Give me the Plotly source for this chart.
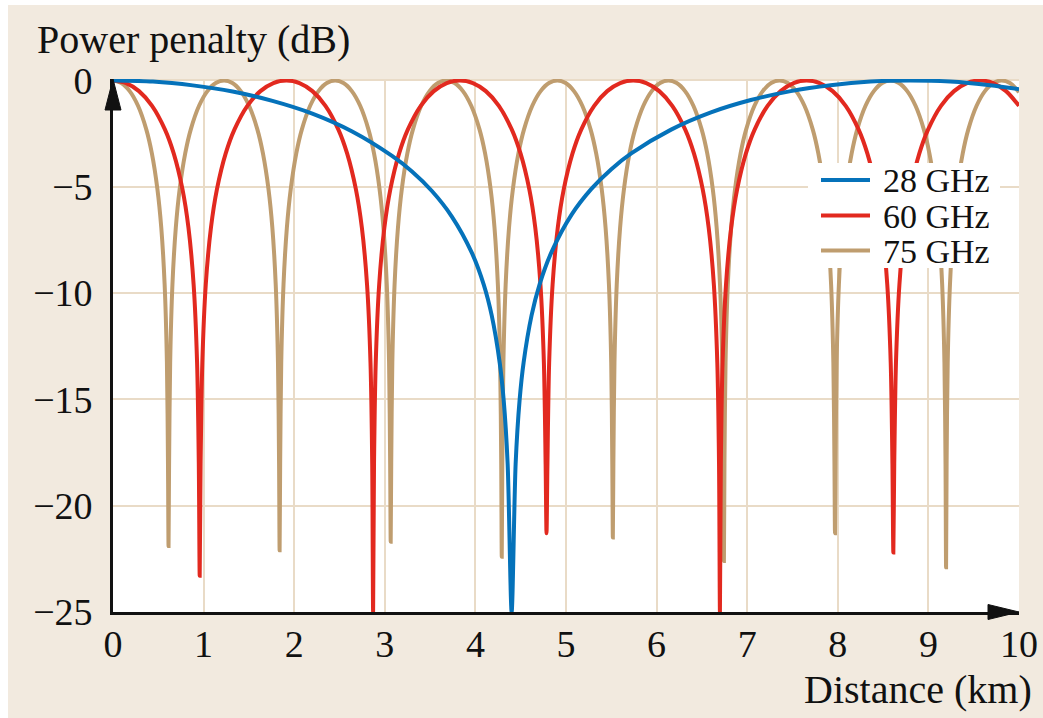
import plotly.graph_objects as go

# ---------------- data ----------------
dist_28 = [0, 0.44, 0.88, 1.32, 1.76, 2.20, 2.64, 3.08, 3.30, 3.52,
           3.74, 3.96, 4.092, 4.18, 4.268, 4.312, 4.356, 4.40,
           4.444, 4.488, 4.532, 4.62, 4.708, 4.84, 5.06, 5.28, 5.50, 5.72,
           6.16, 6.60, 7.04, 7.48, 7.92, 8.36, 8.80, 9.24, 9.68, 10.0]
pen_28 = [0, -0.05, -0.23, -0.52, -0.96, -1.56, -2.40, -3.55, -4.28, -5.20,
          -6.40, -8.10, -9.60, -11.05, -13.27, -15.03, -18.04, -25.0,
          -18.04, -15.03, -13.27, -11.05, -9.60, -8.07, -6.32, -5.10, -4.17, -3.43,
          -2.31, -1.50, -0.92, -0.50, -0.22, -0.05, 0, -0.05, -0.22, -0.41]

dist_60 = [
    0, 0.144, 0.287, 0.431, 0.574, 0.670, 0.766, 0.833, 0.890, 0.928, 0.947,
    0.957, 0.967, 0.986, 1.024, 1.081, 1.148, 1.244, 1.340, 1.483, 1.627, 1.770,
    1.914, 2.058, 2.201, 2.345, 2.488, 2.584, 2.680, 2.747, 2.804, 2.842, 2.861,
    2.871, 2.881, 2.900, 2.938, 2.995, 3.062, 3.158, 3.254, 3.397, 3.541, 3.684,
    3.828, 3.972, 4.115, 4.259, 4.402, 4.498, 4.594, 4.661, 4.718, 4.756, 4.775,
    4.785, 4.795, 4.814, 4.852, 4.909, 4.976, 5.072, 5.168, 5.311, 5.455, 5.598,
    5.742, 5.886, 6.029, 6.173, 6.316, 6.412, 6.508, 6.575, 6.632, 6.670, 6.689,
    6.699, 6.709, 6.728, 6.766, 6.823, 6.890, 6.986, 7.082, 7.225, 7.369, 7.512,
    7.656, 7.800, 7.943, 8.087, 8.230, 8.326, 8.422, 8.489, 8.546, 8.584, 8.603,
    8.613, 8.623, 8.642, 8.680, 8.737, 8.804, 8.900, 8.996, 9.139, 9.283, 9.426,
    9.570, 9.714, 9.857, 10.0]
pen_60 = [
    0, -0.12, -0.50, -1.19, -2.31, -3.43, -5.10, -6.93, -9.60, -13.27, -18.04,
    -23.3, -18.04, -13.27, -9.60, -6.93, -5.10, -3.43, -2.31, -1.19, -0.50, -0.12,
    0, -0.12, -0.50, -1.19, -2.31, -3.43, -5.10, -6.93, -9.60, -13.27, -18.04,
    -25.0, -18.04, -13.27, -9.60, -6.93, -5.10, -3.43, -2.31, -1.19, -0.50, -0.12,
    0, -0.12, -0.50, -1.19, -2.31, -3.43, -5.10, -6.93, -9.60, -13.27, -18.04,
    -21.3, -18.04, -13.27, -9.60, -6.93, -5.10, -3.43, -2.31, -1.19, -0.50, -0.12,
    0, -0.12, -0.50, -1.19, -2.31, -3.43, -5.10, -6.93, -9.60, -13.27, -18.04,
    -25.0, -18.04, -13.27, -9.60, -6.93, -5.10, -3.43, -2.31, -1.19, -0.50, -0.12,
    0, -0.12, -0.50, -1.19, -2.31, -3.43, -5.10, -6.93, -9.60, -13.27, -18.04,
    -22.2, -18.04, -13.27, -9.60, -6.93, -5.10, -3.43, -2.31, -1.19, -0.50, -0.12,
    0, -0.12, -0.50, -1.19]

dist_75 = [
    0.000, 0.092, 0.184, 0.276, 0.368, 0.429, 0.490, 0.533, 0.570, 0.595, 0.607,
    0.613, 0.619, 0.631, 0.656, 0.693, 0.736, 0.797, 0.858, 0.950, 1.042, 1.134,
    1.226, 1.318, 1.410, 1.502, 1.594, 1.655, 1.716, 1.759, 1.796, 1.821, 1.833,
    1.839, 1.845, 1.857, 1.882, 1.919, 1.962, 2.023, 2.084, 2.176, 2.268, 2.360,
    2.452, 2.544, 2.636, 2.728, 2.820, 2.881, 2.942, 2.985, 3.022, 3.047, 3.059,
    3.065, 3.071, 3.083, 3.108, 3.145, 3.188, 3.249, 3.310, 3.402, 3.494, 3.586,
    3.678, 3.770, 3.862, 3.954, 4.046, 4.107, 4.168, 4.211, 4.248, 4.273, 4.285,
    4.291, 4.297, 4.309, 4.334, 4.371, 4.414, 4.475, 4.536, 4.628, 4.720, 4.812,
    4.904, 4.996, 5.088, 5.180, 5.272, 5.333, 5.394, 5.437, 5.474, 5.499, 5.511,
    5.517, 5.523, 5.535, 5.560, 5.597, 5.640, 5.701, 5.762, 5.854, 5.946, 6.038,
    6.130, 6.222, 6.314, 6.406, 6.498, 6.559, 6.620, 6.663, 6.700, 6.725, 6.737,
    6.743, 6.749, 6.761, 6.786, 6.823, 6.866, 6.927, 6.988, 7.080, 7.172, 7.264,
    7.356, 7.448, 7.540, 7.632, 7.724, 7.785, 7.846, 7.889, 7.926, 7.951, 7.963,
    7.969, 7.975, 7.987, 8.012, 8.049, 8.092, 8.153, 8.214, 8.306, 8.398, 8.490,
    8.582, 8.674, 8.766, 8.858, 8.950, 9.011, 9.072, 9.115, 9.152, 9.177, 9.189,
    9.195, 9.201, 9.213, 9.238, 9.275, 9.318, 9.379, 9.440, 9.532, 9.624, 9.716,
    9.808, 9.900, 10.0]
pen_75 = [
    0, -0.12, -0.50, -1.19, -2.31, -3.43, -5.10, -6.93, -9.60, -13.27, -18.04,
    -21.9, -18.04, -13.27, -9.60, -6.93, -5.10, -3.43, -2.31, -1.19, -0.50, -0.12,
    0, -0.12, -0.50, -1.19, -2.31, -3.43, -5.10, -6.93, -9.60, -13.27, -18.04,
    -22.1, -18.04, -13.27, -9.60, -6.93, -5.10, -3.43, -2.31, -1.19, -0.50, -0.12,
    0, -0.12, -0.50, -1.19, -2.31, -3.43, -5.10, -6.93, -9.60, -13.27, -18.04,
    -21.7, -18.04, -13.27, -9.60, -6.93, -5.10, -3.43, -2.31, -1.19, -0.50, -0.12,
    0, -0.12, -0.50, -1.19, -2.31, -3.43, -5.10, -6.93, -9.60, -13.27, -18.04,
    -22.4, -18.04, -13.27, -9.60, -6.93, -5.10, -3.43, -2.31, -1.19, -0.50, -0.12,
    0, -0.12, -0.50, -1.19, -2.31, -3.43, -5.10, -6.93, -9.60, -13.27, -18.04,
    -21.5, -18.04, -13.27, -9.60, -6.93, -5.10, -3.43, -2.31, -1.19, -0.50, -0.12,
    0, -0.12, -0.50, -1.19, -2.31, -3.43, -5.10, -6.93, -9.60, -13.27, -18.04,
    -22.6, -18.04, -13.27, -9.60, -6.93, -5.10, -3.43, -2.31, -1.19, -0.50, -0.12,
    0, -0.12, -0.50, -1.19, -2.31, -3.43, -5.10, -6.93, -9.60, -13.27, -18.04,
    -21.3, -18.04, -13.27, -9.60, -6.93, -5.10, -3.43, -2.31, -1.19, -0.50, -0.12,
    0, -0.12, -0.50, -1.19, -2.31, -3.43, -5.10, -6.93, -9.60, -13.27, -18.04,
    -22.9, -18.04, -13.27, -9.60, -6.93, -5.10, -3.43, -2.31, -1.19, -0.50, -0.12,
    0, -0.12, -0.55]

series_names = ["28 GHz", "60 GHz", "75 GHz"]
x_ticks = [0, 1, 2, 3, 4, 5, 6, 7, 8, 9, 10]
x_tick_text = ["0", "1", "2", "3", "4", "5", "6", "7", "8", "9", "10"]
y_ticks = [0, -5, -10, -15, -20, -25]
y_tick_text = ["0", "\u22125", "\u221210", "\u221215", "\u221220", "\u221225"]

# ---------------- styling ----------------
C28, C60, C75 = "#0572ba", "#e2291f", "#bf9d6f"
BG = "#f2eadf"
GRID = "#e9dbc7"
FONT = "Liberation Serif"
LW = 4.0

W, H = 1043, 718
ML, MR, MT, MB = 113, 24, 79, 106
PW, PH = W - ML - MR, H - MT - MB


def px(p):  # pixel x -> paper x
    return (p - ML) / PW


def py(p):  # pixel y -> paper y
    return (H - MB - p) / PH


fig = go.Figure()
for xs, ys, name, col in [(dist_75, pen_75, series_names[2], C75),
                          (dist_60, pen_60, series_names[1], C60),
                          (dist_28, pen_28, series_names[0], C28)]:
    fig.add_trace(go.Scatter(x=xs, y=ys, mode="lines", name=name,
                             line=dict(color=col, width=LW, shape="spline", smoothing=0.8),
                             showlegend=False, hoverinfo="skip"))

shapes = []
annotations = []
# thin white strips at the top / left edge of the picture
shapes.append(dict(type="rect", xref="paper", yref="paper", layer="below",
                   x0=px(0), x1=px(8), y0=py(H), y1=py(0),
                   fillcolor="white", line=dict(width=0)))
shapes.append(dict(type="rect", xref="paper", yref="paper", layer="below",
                   x0=px(0), x1=px(W), y0=py(5), y1=py(0),
                   fillcolor="white", line=dict(width=0)))
# legend box
shapes.append(dict(type="rect", xref="paper", yref="paper", layer="above",
                   x0=px(808), x1=px(1000), y0=py(268), y1=py(163),
                   fillcolor="white", line=dict(width=0)))
legend_rows = [180, 215.5, 250.5]
for name, col, ry in zip(series_names, [C28, C60, C75], legend_rows):
    shapes.append(dict(type="line", xref="paper", yref="paper", layer="above",
                       x0=px(821), x1=px(870), y0=py(ry), y1=py(ry),
                       line=dict(color=col, width=LW)))
    annotations.append(dict(text=name, xref="paper", yref="paper", x=px(881), y=py(ry + 1),
                            xanchor="left", yanchor="middle", showarrow=False,
                            font=dict(family=FONT, size=34, color="#111")))
# axis arrowheads
yt, ybase, hw = 1.0, py(110), 8 / PW
shapes.append(dict(type="path", xref="paper", yref="paper", layer="above",
                   path=f"M {-hw} {ybase} L 0 {yt} L {hw} {ybase} Z",
                   fillcolor="#111", line=dict(color="#111", width=1)))
xb, hh = px(988), 7.5 / PH
shapes.append(dict(type="path", xref="paper", yref="paper", layer="above",
                   path=f"M {xb} {-hh} L 1 0 L {xb} {hh} Z",
                   fillcolor="#111", line=dict(color="#111", width=1)))

annotations.append(dict(text="Power penalty (dB)", xref="paper", yref="paper",
                        x=px(35), y=py(40), xanchor="left", yanchor="middle", showarrow=False,
                        font=dict(family=FONT, size=40, color="#111")))
annotations.append(dict(text="Distance (km)", xref="paper", yref="paper",
                        x=px(1034), y=py(689), xanchor="right", yanchor="middle", showarrow=False,
                        font=dict(family=FONT, size=40, color="#111")))

fig.update_layout(
    width=W, height=H,
    margin=dict(l=ML, r=MR, t=MT, b=MB, pad=0, autoexpand=False),
    paper_bgcolor=BG, plot_bgcolor="white",
    shapes=shapes, annotations=annotations,
    showlegend=False,
    font=dict(family=FONT, size=38, color="#111"),
)
fig.update_xaxes(range=[0, 10], tickvals=x_ticks, ticktext=x_tick_text,
                 showgrid=True, gridcolor=GRID, gridwidth=2.2, zeroline=False,
                 showline=True, linecolor="#111", linewidth=2.6, ticks="",
                 automargin=False,
                 ticklabelstandoff=-3, tickfont=dict(family=FONT, size=38, color="#111"))
fig.update_yaxes(range=[-25, 0.07], tickvals=y_ticks, ticktext=y_tick_text,
                 showgrid=True, gridcolor=GRID, gridwidth=2.2, zeroline=False,
                 showline=True, linecolor="#111", linewidth=2.6, ticks="",
                 automargin=False,
                 ticklabelstandoff=10, tickfont=dict(family=FONT, size=38, color="#111"))

fig.write_html("out.html",
               config={"displayModeBar": False},
               post_script="document.body.style.margin='0px';"
                           "document.body.style.overflow='hidden';")
